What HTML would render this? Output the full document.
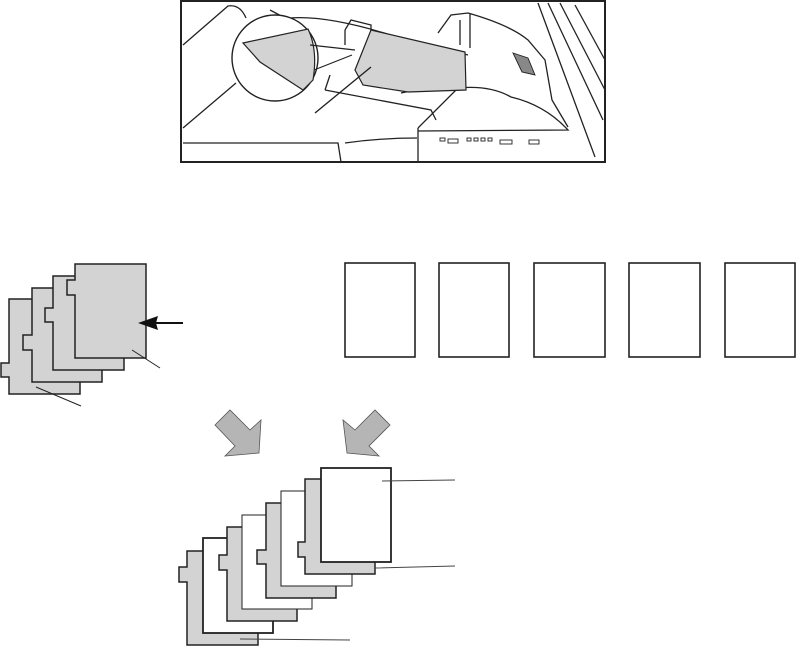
<!DOCTYPE html>
<html><head><meta charset="utf-8"><style>html,body{margin:0;padding:0;background:#fff;width:796px;height:646px;overflow:hidden}</style></head>
<body>
<svg width="796" height="646" viewBox="0 0 796 646" xmlns="http://www.w3.org/2000/svg" stroke-linejoin="miter">
<!-- top illustration -->
<g fill="none" stroke="#222" stroke-width="1.3">
<rect x="181" y="1" width="424" height="161" stroke-width="2"/>
<path d="M183 45 L228 6 Q240 4 246 18"/>
<path d="M183 128 L236 83"/>
<path d="M290 18 Q330 15 400 38 L468 55"/>
<path d="M345 30 L351 20 L371 25 L371 32 M345 30 L345 45"/>
<path d="M325 90 L330 75 M325 90 L431 110 L436 120"/>
<path d="M438 33 L451 15 L468 13 Q510 25 528 40 L545 60 L552 100 L568 127"/>
<path d="M460 20 L460 45 M470 13 L470 48"/>
<path d="M418 128 L458 88 Q490 85 511 97 Q545 105 568 130 L418 131"/>
<path d="M418 128 L418 162"/>
<path d="M183 143 L338 143 L341 162 M345 143 Q380 138 417 138"/>
<path d="M538 3 L595 157 M548 3 L603 120 M560 3 L605 90 M575 5 L605 60"/>
<path d="M401 93 Q420 88 448 90"/>
<path d="M270 10 L285 18"/>
</g>
<circle cx="275" cy="58" r="43" fill="#fff" stroke="#222" stroke-width="1.4"/>
<path d="M243 43 L308 29 Q318 50 313 80 L303 90 L260 62 Z" fill="#d3d3d3" stroke="#222" stroke-width="1.2"/>
<path d="M371 30 L465 52 L466 90 L408 92 L363 85 L355 70 Z" fill="#d3d3d3" stroke="#222" stroke-width="1.2"/>
<path d="M315 113 L371 67" stroke="#222" stroke-width="1.4"/>
<path d="M310 45 L355 50 M314 70 L352 55" stroke="#222" stroke-width="1.2"/>
<g fill="#fff" stroke="#222" stroke-width="0.9">
<rect x="440" y="138" width="5" height="3"/><rect x="448" y="139" width="10" height="4"/>
<rect x="467" y="138" width="4" height="3"/><rect x="474" y="138" width="4" height="3"/><rect x="481" y="138" width="4" height="3"/><rect x="488" y="138" width="4" height="3"/>
<rect x="500" y="140" width="12" height="4"/><rect x="529" y="140" width="10" height="4"/>
<path d="M513 53 L528 58 L535 75 L522 72 Z" fill="#888"/>
</g>

<!-- left tab stack -->
<g fill="#d3d3d3" stroke="#222" stroke-width="1.5">
<path d="M9 299 H80 V394 H9 V377 H1 V363 H9 Z"/>
<path d="M32 288 H102 V382 H32 V350 H23 V335 H32 Z"/>
<path d="M53 276 H124 V370 H53 V322 H45 V308 H53 Z"/>
<path d="M75 264 H146 V358 H75 V295 H67 V280 H75 Z"/>
</g>
<path d="M183 323 L155 323" stroke="#111" stroke-width="2"/>
<path d="M138 323 L158 316 L156 323 L158 330 Z" fill="#111"/>
<path d="M132 350 L160 368 M36 387 L81 406" stroke="#222" stroke-width="1"/>

<!-- white pages -->
<g fill="#fff" stroke="#222" stroke-width="1.6">
<rect x="345" y="263" width="70" height="94"/>
<rect x="439" y="263" width="70" height="94"/>
<rect x="534" y="263" width="71" height="94"/>
<rect x="629" y="263" width="71" height="94"/>
<rect x="725" y="263" width="70" height="94"/>
</g>

<!-- arrows -->
<g fill="#b5b5b5" stroke="#555" stroke-width="0.8">
<path d="M215 425 L230 410 L250 430 L261 420 L259 453 L225 456 L235 446 Z"/>
<path d="M390 425 L375 410 L355 430 L343 420 L347 453 L379 456 L369 446 Z"/>
</g>

<!-- bottom stack -->
<g stroke="#222">
<path d="M187 551 H258 V645 H187 V582 H179 V567 H187 Z" fill="#d3d3d3" stroke-width="1.5"/>
<rect x="203" y="538" width="70" height="95" fill="#fff" stroke-width="1.8"/>
<path d="M227 527 H297 V621 H227 V570 H219 V555 H227 Z" fill="#d3d3d3" stroke-width="1.5"/>
<rect x="242" y="515" width="70" height="94" fill="#fff" stroke-width="1"/>
<path d="M266 503 H336 V598 H266 V564 H257 V550 H266 Z" fill="#d3d3d3" stroke-width="1.5"/>
<rect x="281" y="491" width="71" height="95" fill="#fff" stroke-width="1"/>
<path d="M305 479 H375 V574 H305 V557 H298 V542 H305 Z" fill="#d3d3d3" stroke-width="1.5"/>
<rect x="321" y="468" width="70" height="94" fill="#fff" stroke-width="1.8"/>
</g>
<path d="M382 481 L455 480 M375 568 L455 566 M240 639 L350 640" stroke="#444" stroke-width="1"/>
</svg>
</body></html>
